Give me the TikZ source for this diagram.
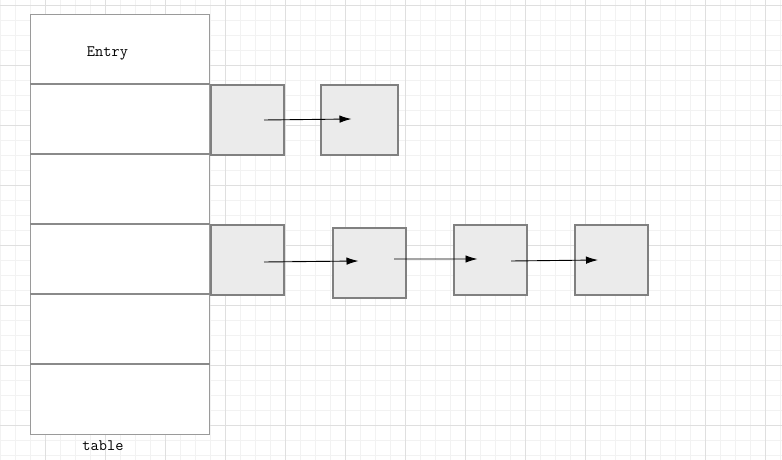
\documentclass[tikz,border=0pt]{standalone}
\usepackage{fontspec}
\usetikzlibrary{arrows.meta}
\definecolor{gridminor}{HTML}{F2F2F2}
\definecolor{gridmajor}{HTML}{DFDFDF}
\definecolor{cellborder}{HTML}{9A9A9A}
\definecolor{divborder}{HTML}{8A8A8A}
\definecolor{boxfill}{HTML}{EBEBEB}
\definecolor{boxborder}{HTML}{808080}
\tikzset{
  cell/.style={draw=cellborder, fill=white, line width=1bp, minimum width=179bp, minimum height=70bp, inner sep=0pt, anchor=north west},
  divider/.style={draw=divborder, line width=2bp},
  listbox/.style={draw=boxborder, fill=boxfill, line width=2bp, minimum width=73bp, minimum height=70bp, inner sep=0pt, anchor=north west},
  link/.style={draw=black, line width=0.9bp, -{Latex[length=12bp,width=7.5bp]}},
  label/.style={font=\ttfamily\fontsize{16}{19}\selectfont, inner sep=0pt}
}
\begin{document}
\begin{tikzpicture}[x=1bp,y=-1bp]
\useasboundingbox (0,0) rectangle (782,460);
\fill[white] (0,0) rectangle (782,460);
% grid
\foreach \x in {0,15,...,780} \draw[gridminor, line width=0.8bp] (\x,0) -- (\x,460);
\foreach \y in {5,20,...,455} \draw[gridminor, line width=0.8bp] (0,\y) -- (782,\y);
\foreach \x in {45,105,...,765} \draw[gridmajor, line width=0.8bp] (\x,0) -- (\x,460);
\foreach \y in {5,65,...,425} \draw[gridmajor, line width=0.8bp] (0,\y) -- (782,\y);
% table
\node[cell] (r0) at (30,14) {};
\node[cell] (r1) at (30,84) {};
\node[cell] (r2) at (30,154) {};
\node[cell] (r3) at (30,224) {};
\node[cell] (r4) at (30,294) {};
\node[cell] (r5) at (30,364) {};
\foreach \r in {r1,r2,r3,r4,r5} \draw[divider] (\r.north west) -- (\r.north east);
\node[label] (entry) at (107.5,53) {Entry};
\node[label] (tbl) at (103,446) {table};
% lists
\node[listbox] (a1) at (210,84) {};
\node[listbox, minimum width=77bp] (a2) at (320,84) {};
\node[listbox] (b1) at (210,224) {};
\node[listbox] (b2) at (332,227) {};
\node[listbox] (b3) at (453,224) {};
\node[listbox] (b4) at (574,224) {};
% links
\draw[link] ([xshift=16.5bp,yshift=0bp]a1.center) -- ([xshift=-8bp,yshift=1bp]a2.center);
\draw[link] ([xshift=16.5bp,yshift=-2bp]b1.center) -- ([xshift=-11bp,yshift=2bp]b2.center);
\draw[link] ([xshift=24.5bp,yshift=4bp]b2.center) -- ([xshift=-13bp,yshift=1bp]b3.center);
\draw[link] ([xshift=20.5bp,yshift=-1bp]b3.center) -- ([xshift=-13.5bp,yshift=0bp]b4.center);
\end{tikzpicture}
\end{document}
